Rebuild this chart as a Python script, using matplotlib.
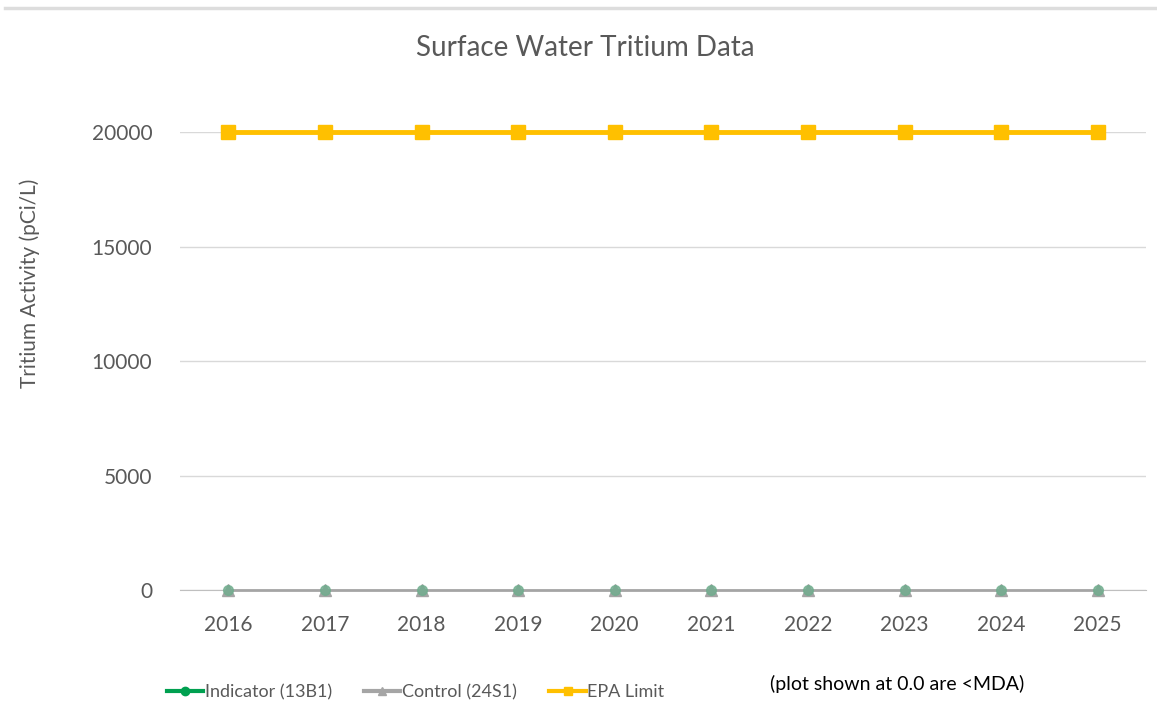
import matplotlib.pyplot as plt
from matplotlib.lines import Line2D

# --- Data ---
years = ["2016", "2017", "2018", "2019", "2020", "2021", "2022", "2023", "2024", "2025"]
indicator_13b1 = [0, 0, 0, 0, 0, 0, 0, 0, 0, 0]
control_24s1 = [0, 0, 0, 0, 0, 0, 0, 0, 0, 0]
epa_limit = [20000, 20000, 20000, 20000, 20000, 20000, 20000, 20000, 20000, 20000]
y_ticks = [0, 5000, 10000, 15000, 20000]

FONT = "Lato"
TEXT_COLOR = "#595959"

plt.rcParams['font.family'] = [FONT, 'DejaVu Sans']

fig = plt.figure(figsize=(11.57, 7.09), dpi=100)
ax = fig.add_axes([0.1556, 0.1678, 0.8349, 0.646])

x = list(range(len(years)))
ax.plot(x, epa_limit, color="#FFC000", linewidth=3.5, marker="s", markersize=10,
        label="EPA Limit", zorder=3, clip_on=False)
ax.plot(x, control_24s1, color="#A5A5A5", linewidth=2, marker="^", markersize=8,
        label="Control (24S1)", zorder=4, clip_on=False)
ax.plot(x, indicator_13b1, color="#70AD8E", linewidth=0, marker="o", markersize=7,
        alpha=0.8, label="Indicator (13B1)", zorder=5, clip_on=False)

ax.set_xlim(-0.5, len(years) - 0.5)
ax.set_ylim(0, 20000)
ax.set_yticks(y_ticks)
ax.set_yticklabels([str(v) for v in y_ticks])
ax.set_xticks(x)
ax.set_xticklabels(years)
ax.tick_params(axis="both", length=0, labelsize=15, labelcolor=TEXT_COLOR)
ax.tick_params(axis="x", pad=18)
ax.tick_params(axis="y", pad=20)
ax.grid(axis="y", color="#D9D9D9", linewidth=1)
ax.set_axisbelow(True)
for side in ["top", "right", "left"]:
    ax.spines[side].set_visible(False)
ax.spines["bottom"].set_color("#BFBFBF")

fig.text(0.506, 0.932, "Surface Water Tritium Data", ha="center", va="center",
         fontsize=20, color=TEXT_COLOR)
fig.text(0.026, 0.6, "Tritium Activity (pCi/L)", rotation=90, ha="center",
         va="center", fontsize=15, color=TEXT_COLOR)

# legend, laid out like the Excel one under the axis
handles = [
    Line2D([], [], color="#00A050", linewidth=3, marker="o", markersize=6),
    Line2D([], [], color="#A5A5A5", linewidth=3, marker="^", markersize=6),
    Line2D([], [], color="#FFC000", linewidth=3, marker="s", markersize=6),
]
labels = ["Indicator (13B1)", "Control (24S1)", "EPA Limit"]
fig.legend(handles, labels, loc="center left", bbox_to_anchor=(0.13, 0.024),
           ncol=3, frameon=False, fontsize=13, handlelength=2.0, handletextpad=0.1,
           columnspacing=1.8, labelcolor=TEXT_COLOR)

fig.text(0.775, 0.035, "(plot shown at 0.0 are <MDA)", ha="center", va="center",
         fontsize=14, color="black")

# faint border line at the top of the image
fig.add_artist(Line2D([0.004, 1.0], [0.989, 0.989], color="#DDDDDD", linewidth=2.5,
                      transform=fig.transFigure))

fig.savefig("out.png", dpi=100)
